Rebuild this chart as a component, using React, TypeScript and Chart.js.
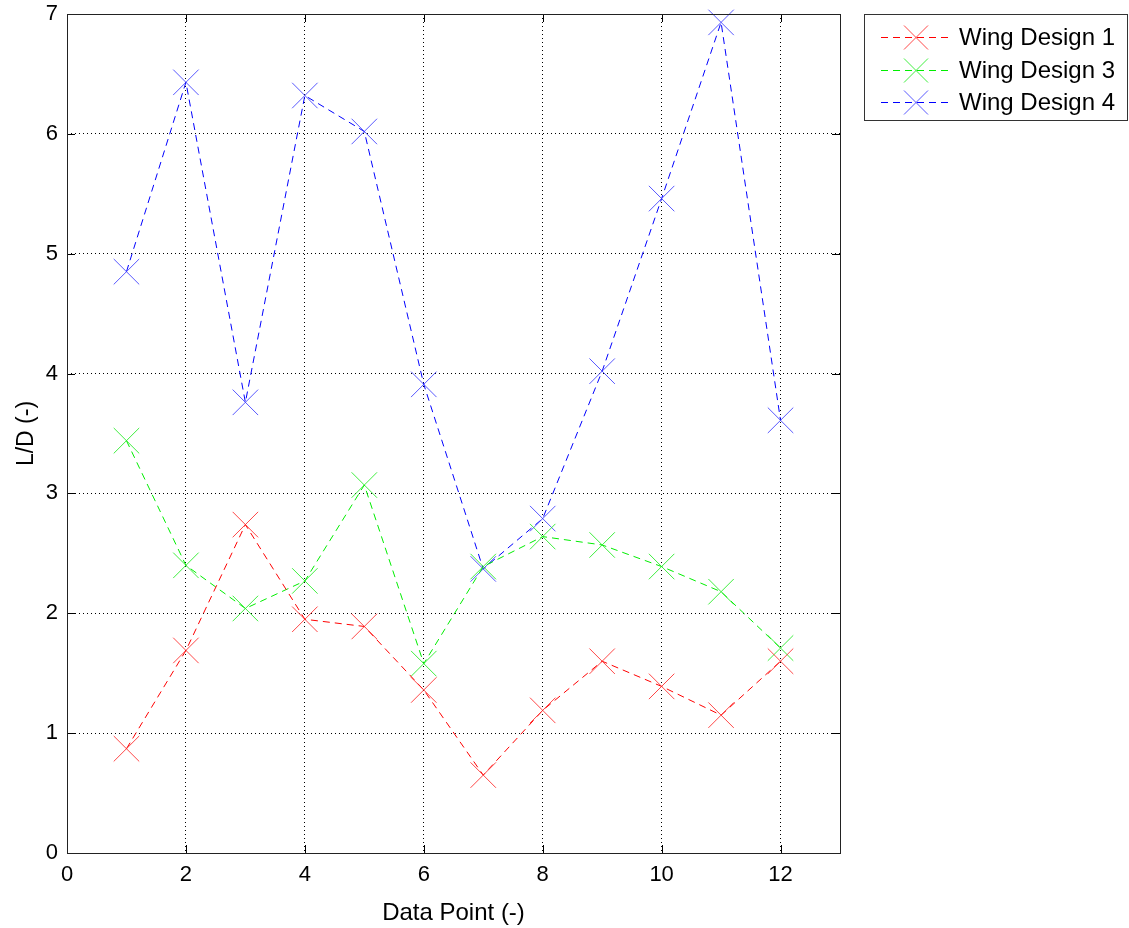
import React, { useEffect, useRef } from "react";
import { Chart, registerables } from "chart.js";

Chart.register(...registerables);

const dataPoints = [1, 2, 3, 4, 5, 6, 7, 8, 9, 10, 11, 12];
const wing1 = [0.87, 1.69, 2.74, 1.95, 1.89, 1.36, 0.65, 1.19, 1.6, 1.39, 1.15, 1.6];
const wing3 = [3.44, 2.4, 2.04, 2.27, 3.07, 1.58, 2.39, 2.64, 2.57, 2.39, 2.18, 1.71];
const wing4 = [4.85, 6.43, 3.76, 6.32, 6.02, 3.91, 2.37, 2.79, 4.02, 5.46, 6.93, 3.61];
const seriesNames = ["Wing Design 1", "Wing Design 3", "Wing Design 4"];
const seriesColors = ["#ff0000", "#00ee00", "#0000ff"];
const markerColors = ["rgba(255,40,40,0.85)", "rgba(30,235,30,0.85)", "rgba(60,60,255,0.85)"];
const xTicks = [0, 2, 4, 6, 8, 10, 12];
const yTicks = [0, 1, 2, 3, 4, 5, 6, 7];

const FONT = "'Liberation Sans', Arial, Helvetica, sans-serif";

const frameAndLegend = {
  id: "frameAndLegend",
  afterDatasetsDraw(chart: any) {
    const { ctx, chartArea: a, scales } = chart;
    ctx.save();
    ctx.strokeStyle = "#000";
    ctx.lineWidth = 1;
    ctx.setLineDash([]);
    const tl = 8;
    ctx.beginPath();
    for (const v of xTicks) {
      const x = Math.round(scales.x.getPixelForValue(v)) + 0.5;
      ctx.moveTo(x, a.bottom);
      ctx.lineTo(x, a.bottom - tl);
      ctx.moveTo(x, a.top);
      ctx.lineTo(x, a.top + tl);
    }
    for (const v of yTicks) {
      const y = Math.round(scales.y.getPixelForValue(v)) + 0.5;
      ctx.moveTo(a.left, y);
      ctx.lineTo(a.left + tl, y);
      ctx.moveTo(a.right, y);
      ctx.lineTo(a.right - tl, y);
    }
    ctx.stroke();
    ctx.strokeStyle = "#222";
    ctx.strokeRect(Math.round(a.left) + 0.5, Math.round(a.top) + 0.5, Math.round(a.right - a.left), Math.round(a.bottom - a.top));
    // legend
    const bx = 864.5, by = 14.5, bw = 263, bh = 106;
    ctx.fillStyle = "#fff";
    ctx.fillRect(bx, by, bw, bh);
    ctx.strokeStyle = "#333";
    ctx.strokeRect(bx, by, bw, bh);
    const rows = [37, 70, 102];
    ctx.font = `24px ${FONT}`;
    ctx.textBaseline = "middle";
    ctx.textAlign = "left";
    seriesNames.forEach((name, i) => {
      const y = rows[i] + 0.5;
      ctx.beginPath();
      ctx.strokeStyle = seriesColors[i];
      ctx.lineWidth = 1;
      ctx.setLineDash([7, 5]);
      ctx.moveTo(881, y);
      ctx.lineTo(951, y);
      ctx.stroke();
      ctx.setLineDash([]);
      ctx.strokeStyle = markerColors[i];
      const r = 12;
      ctx.beginPath();
      ctx.moveTo(916 - r, y - r);
      ctx.lineTo(916 + r, y + r);
      ctx.moveTo(916 - r, y + r);
      ctx.lineTo(916 + r, y - r);
      ctx.stroke();
      ctx.fillStyle = "#000";
      ctx.fillText(name, 959, y + 1);
    });
    ctx.restore();
  },
};

export default function App() {
  const ref = useRef<HTMLCanvasElement>(null);
  useEffect(() => {
    if (!ref.current) return;
    const mk = (label: string, vals: number[], i: number) => ({
      label,
      data: dataPoints.map((x, k) => ({ x, y: vals[k] })),
      borderColor: seriesColors[i],
      borderWidth: 1,
      borderDash: [7, 5],
      pointStyle: "crossRot",
      pointRadius: 18,
      pointBorderColor: markerColors[i],
      pointBorderWidth: 1,
      pointBackgroundColor: "transparent",
      fill: false,
      tension: 0,
      clip: 20,
    });
    const chart = new Chart(ref.current, {
      type: "line",
      data: {
        datasets: [mk(seriesNames[0], wing1, 0), mk(seriesNames[1], wing3, 1), mk(seriesNames[2], wing4, 2)],
      },
      options: {
        animation: false,
        responsive: false,
        maintainAspectRatio: false,
        layout: { autoPadding: false, padding: { top: 14, right: 289, left: 0, bottom: 0 } },
        plugins: { legend: { display: false }, tooltip: { enabled: false } },
        scales: {
          x: {
            type: "linear",
            min: 0,
            max: 13,
            afterBuildTicks: (s: any) => {
              s.ticks = xTicks.map((v) => ({ value: v }));
            },
            afterFit: (s: any) => {
              s.height = 75;
              s.paddingLeft = 0;
              s.paddingRight = 0;
            },
            ticks: {
              color: "#000",
              font: { family: FONT, size: 22 },
              padding: 9,
              maxRotation: 0,
              callback: (v: any) => String(v),
            },
            grid: { color: "#000", lineWidth: 1, drawTicks: false },
            border: { display: false, dash: [1, 3] },
            title: {
              display: true,
              text: "Data Point (-)",
              color: "#000",
              font: { family: FONT, size: 24 },
              padding: { top: 7, bottom: 0 },
            },
          },
          y: {
            type: "linear",
            min: 0,
            max: 7,
            afterBuildTicks: (s: any) => {
              s.ticks = yTicks.map((v) => ({ value: v }));
            },
            afterFit: (s: any) => {
              s.width = 67;
              s.paddingTop = 0;
              s.paddingBottom = 0;
            },
            ticks: {
              color: "#000",
              font: { family: FONT, size: 22 },
              padding: 9,
              callback: (v: any) => String(v),
            },
            grid: { color: "#000", lineWidth: 1, drawTicks: false },
            border: { display: false, dash: [1, 3] },
            title: {
              display: true,
              text: "L/D (-)",
              color: "#000",
              font: { family: FONT, size: 23 },
              padding: { top: 13, bottom: 4 },
            },
          },
        },
      },
      plugins: [frameAndLegend],
    } as any);
    return () => chart.destroy();
  }, []);
  return (
    <div style={{ position: "fixed", left: 0, top: 0, width: 1129, height: 928, background: "#fff" }}>
      <canvas ref={ref} width={1129} height={928} style={{ width: 1129, height: 928 }} />
    </div>
  );
}
